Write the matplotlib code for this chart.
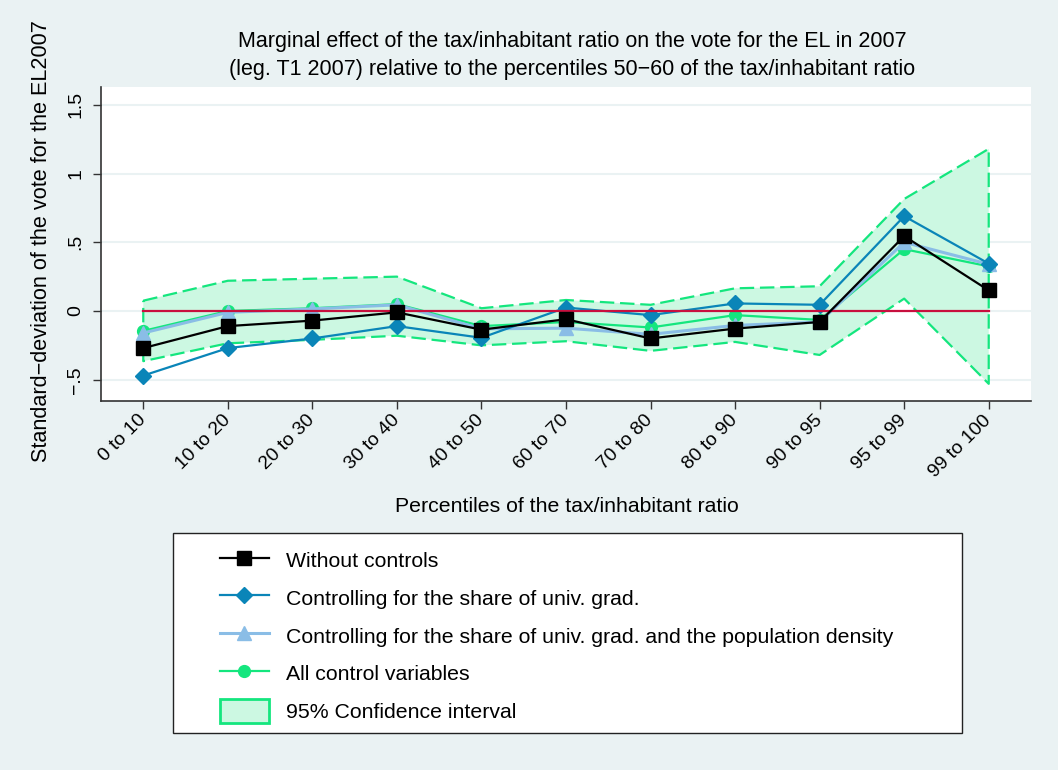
import matplotlib
matplotlib.use("Agg")
import matplotlib.pyplot as plt
from matplotlib.lines import Line2D
from matplotlib.patches import Patch, Rectangle
import numpy as np

plt.rcParams['font.family'] = ['Liberation Sans', 'DejaVu Sans']

# Percentile groups of the tax/inhabitant ratio (reference group 50-60 omitted)
categories = ["0 to 10", "10 to 20", "20 to 30", "30 to 40", "40 to 50",
              "60 to 70", "70 to 80", "80 to 90", "90 to 95", "95 to 99",
              "99 to 100"]

# Estimated marginal effects (standard deviations of the EL vote)
no_controls = [-0.27, -0.11, -0.07, -0.01, -0.136, -0.06, -0.20, -0.128, -0.08, 0.545, 0.15]
univ_grad = [-0.47, -0.27, -0.20, -0.11, -0.195, 0.025, -0.03, 0.055, 0.045, 0.69, 0.345]
univ_grad_density = [-0.16, -0.01, 0.015, 0.045, -0.13, -0.125, -0.17, -0.105, -0.08, 0.50, 0.34]
all_controls = [-0.145, 0.0, 0.02, 0.05, -0.11, -0.08, -0.12, -0.03, -0.065, 0.45, 0.325]

# 95% confidence interval (all control variables)
ci_upper = [0.075, 0.22, 0.235, 0.25, 0.02, 0.08, 0.045, 0.165, 0.18, 0.815, 1.18]
ci_lower = [-0.365, -0.235, -0.21, -0.18, -0.25, -0.22, -0.29, -0.225, -0.32, 0.09, -0.53]

y_ticks = [-0.5, 0, 0.5, 1, 1.5]
y_tick_labels = ["\u2212.5", "0", ".5", "1", "1.5"]

BG = "#EAF2F3"
BLACK = "#000000"
BLUE = "#0A85B8"
LIGHTBLUE = "#8ABDE6"
GREEN = "#14E67E"
CI_FILL = "#CCF8E2"
RED = "#C8103E"

FS = 15.3

W, H = 1058, 770
fig = plt.figure(figsize=(W / 100, H / 100), dpi=100, facecolor=BG)
ax = fig.add_axes([101 / W, 1 - 401 / H, (1031 - 101) / W, (401 - 87) / H])
ax.set_facecolor("white")

x = np.arange(1, len(categories) + 1)

# Confidence band with dashed outline
poly_x = np.concatenate([x, x[::-1]])
poly_y = np.concatenate([ci_upper, np.array(ci_lower)[::-1]])
ax.fill(poly_x, poly_y, facecolor=CI_FILL, edgecolor="none", zorder=1)
ax.plot(np.append(poly_x, poly_x[0]), np.append(poly_y, poly_y[0]),
        color=GREEN, lw=1.6, dashes=(6.5, 2.6), zorder=1.5)

ax.plot(x, all_controls, color=GREEN, lw=1.6, marker="o", ms=8.5,
        mfc=GREEN, mec=GREEN, zorder=2)
ax.plot(x, univ_grad_density, color=LIGHTBLUE, lw=2.2, marker="^", ms=10,
        mfc=LIGHTBLUE, mec=LIGHTBLUE, zorder=3)
ax.plot(x, univ_grad, color=BLUE, lw=1.6, marker="D", ms=8.5,
        mfc=BLUE, mec=BLUE, zorder=4)
ax.plot([x[0], x[-1]], [0, 0], color=RED, lw=1.6, zorder=5)
ax.plot(x, no_controls, color=BLACK, lw=1.6, marker="s", ms=10,
        mfc=BLACK, mec=BLACK, zorder=6)

ax.set_xlim(0.5, len(categories) + 0.5)
ax.set_ylim(-0.655, 1.63)

ax.set_yticks(y_ticks)
ax.set_yticklabels(y_tick_labels, rotation=90, va="center", fontsize=14)
ax.set_xticks(x)
ax.set_xticklabels(categories, rotation=45, ha="right", va="center",
                   rotation_mode="anchor", fontsize=13.9)
ax.tick_params(axis="y", length=6, width=1, color="#333333", pad=6)
ax.tick_params(axis="x", length=6, width=1, color="#333333", pad=6)
ax.yaxis.grid(True, color=BG, lw=1.5, zorder=0)
ax.set_axisbelow(True)

for s in ("top", "right"):
    ax.spines[s].set_visible(False)
for s in ("left", "bottom"):
    ax.spines[s].set_color("#333333")
    ax.spines[s].set_linewidth(1.2)

fig.text(42 / W, 1 - 241 / H, "Standard\u2212deviation of the vote for the EL2007",
         rotation=90, ha="center", va="center", fontsize=15.6)
fig.text(567 / W, 1 - 507 / H, "Percentiles of the tax/inhabitant ratio",
         ha="center", va="center", fontsize=FS)
fig.text(572 / W, 1 - 42 / H,
         "Marginal effect of the tax/inhabitant ratio on the vote for the EL in 2007",
         ha="center", va="center", fontsize=15.5)
fig.text(572 / W, 1 - 70 / H,
         "(leg. T1 2007) relative to the percentiles 50\u221260 of the tax/inhabitant ratio",
         ha="center", va="center", fontsize=15.5)

# Legend inside a white box
box = Rectangle((173 / W, 1 - 733 / H), (962 - 173) / W, (733 - 533) / H,
                transform=fig.transFigure, facecolor="white",
                edgecolor="#222222", lw=1.0, zorder=0)
fig.patches.append(box)

handles = [
    Line2D([], [], color=BLACK, lw=1.6, marker="s", ms=10),
    Line2D([], [], color=BLUE, lw=1.6, marker="D", ms=8.5),
    Line2D([], [], color=LIGHTBLUE, lw=2.2, marker="^", ms=10),
    Line2D([], [], color=GREEN, lw=1.6, marker="o", ms=8.5),
    Patch(facecolor=CI_FILL, edgecolor=GREEN, lw=2),
]
labels = ["Without controls",
          "Controlling for the share of univ. grad.",
          "Controlling for the share of univ. grad. and the population density",
          "All control variables",
          "95% Confidence interval"]
fig.legend(handles, labels, loc="upper left",
           bbox_to_anchor=(205 / W, 1 - 533 / H), frameon=False,
           fontsize=FS, handlelength=2.3, handleheight=1.4,
           labelspacing=0.62, handletextpad=0.8, borderpad=0.2)

fig.savefig("out.png", dpi=100, facecolor=BG)
